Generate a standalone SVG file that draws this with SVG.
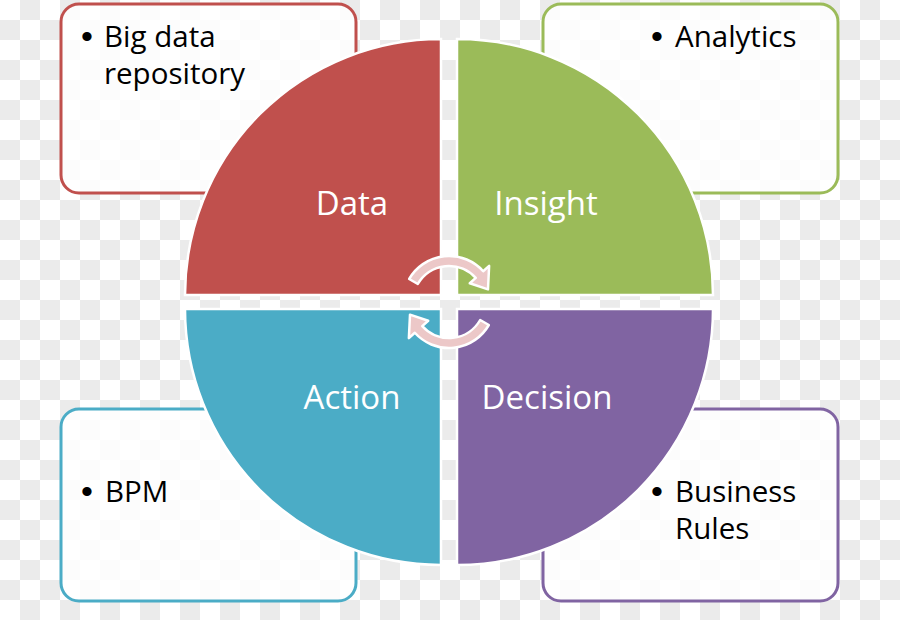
<svg xmlns="http://www.w3.org/2000/svg" width="900" height="620" viewBox="0 0 900 620">
<defs>
<pattern id="chk" width="40" height="40" patternUnits="userSpaceOnUse">
<rect width="40" height="40" fill="#ffffff"/>
<rect x="20" y="0" width="20" height="20" fill="#ebebeb"/>
<rect x="0" y="20" width="20" height="20" fill="#ebebeb"/>
</pattern>
<style>
.box{fill:#ffffff;fill-opacity:0.85;stroke-width:3}
.quad{stroke:#ffffff;stroke-width:2.5}
.lbl{font-family:"Open Sans","Liberation Sans",sans-serif;font-size:33px;fill:#ffffff;text-anchor:middle}
.txt{font-family:"Open Sans","Liberation Sans",sans-serif;font-size:29.5px;fill:#000000}
.bul{font-family:"Liberation Sans",sans-serif;font-size:34px;fill:#000000;text-anchor:middle}
.arr{fill:#ecc8c8;stroke:#ffffff;stroke-width:2.5;stroke-linejoin:round}
</style>
</defs>
<rect width="900" height="620" fill="url(#chk)"/>
<g id="box-data">
<rect class="box" x="61" y="4" width="295" height="189" rx="18" stroke="#c0504d"/>
<text class="bul" x="87" y="48">•</text>
<text class="txt" x="104" y="47">Big data</text>
<text class="txt" x="104" y="84">repository</text>
</g>
<g id="box-insight">
<rect class="box" x="543" y="4" width="295" height="189" rx="18" stroke="#9bbb59"/>
<text class="bul" x="657" y="48">•</text>
<text class="txt" x="675" y="47">Analytics</text>
</g>
<g id="box-action">
<rect class="box" x="61" y="409" width="295" height="192" rx="18" stroke="#4bacc6"/>
<text class="bul" x="87" y="503">•</text>
<text class="txt" x="105" y="502">BPM</text>
</g>
<g id="box-decision">
<rect class="box" x="543" y="409" width="295" height="192" rx="18" stroke="#8064a2"/>
<text class="bul" x="657" y="503">•</text>
<text class="txt" x="675" y="502">Business</text>
<text class="txt" x="675" y="539">Rules</text>
</g>
<g id="quad-data">
<path class="quad" d="M441 295 L185 295 A256 256 0 0 1 441 39 Z" fill="#c0504d"/>
<text class="lbl" x="352" y="215">Data</text>
</g>
<g id="quad-insight">
<path class="quad" d="M457 295 L457 39 A256 256 0 0 1 713 295 Z" fill="#9bbb59"/>
<text class="lbl" x="546" y="215">Insight</text>
</g>
<g id="quad-action">
<path class="quad" d="M441 309 L441 565 A256 256 0 0 1 185 309 Z" fill="#4bacc6"/>
<text class="lbl" x="352" y="409">Action</text>
</g>
<g id="quad-decision">
<path class="quad" d="M457 309 L713 309 A256 256 0 0 1 457 565 Z" fill="#8064a2"/>
<text class="lbl" x="547" y="409">Decision</text>
</g>
<g id="connectors">
<path class="arr" d="M409.16 279 A46 46 0 0 1 483.18 271.22 L489.13 265.87 L488 289.33 L469.81 283.27 L475.75 277.91 A36 36 0 0 0 417.82 284 Z"/>
<path class="arr" transform="rotate(180 449 302)" d="M409.16 279 A46 46 0 0 1 483.18 271.22 L489.13 265.87 L488 289.33 L469.81 283.27 L475.75 277.91 A36 36 0 0 0 417.82 284 Z"/>
</g>
</svg>
